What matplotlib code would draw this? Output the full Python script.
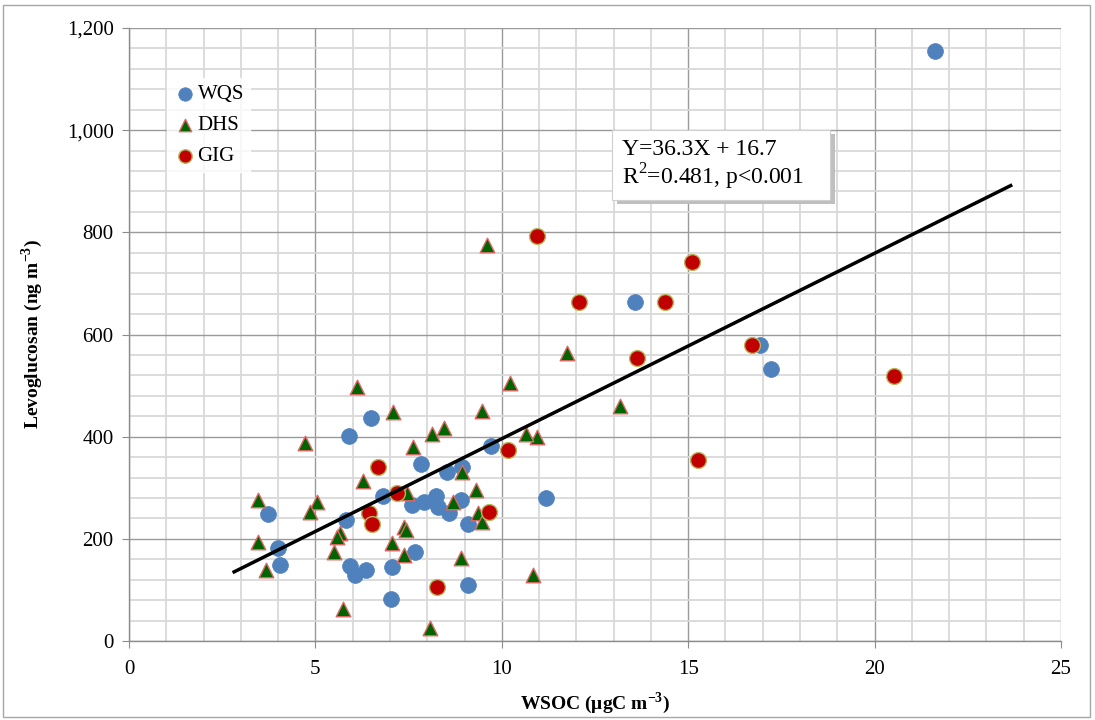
import matplotlib
matplotlib.use("Agg")
import matplotlib.pyplot as plt
import numpy as np
from matplotlib.patches import Rectangle
from matplotlib.ticker import MultipleLocator, FuncFormatter

plt.rcParams['font.family'] = ['Liberation Serif', 'DejaVu Serif']
plt.rcParams['mathtext.fontset'] = 'custom'
plt.rcParams['mathtext.rm'] = 'Liberation Serif'
plt.rcParams['mathtext.bf'] = 'Liberation Serif:bold'

# ---- data ----
wqs_x = [21.63, 13.58, 16.93, 17.23, 6.49, 5.91, 9.71, 7.82, 8.52, 8.92, 7.58, 7.91,
         8.24, 8.30, 8.59, 8.91, 9.10, 7.67, 11.18, 9.10, 3.74, 5.82, 6.82, 3.99,
         4.05, 5.93, 6.06, 6.36, 7.05, 7.02]
wqs_y = [1155, 664, 579, 532, 437, 402, 382, 346, 330, 340, 266, 273,
         283, 263, 250, 276, 230, 175, 279, 110, 248, 236, 284, 183,
         149, 146, 129, 139, 144, 82]

dhs_x = [11.76, 13.18, 9.61, 10.94, 10.85, 6.12, 7.07, 4.72, 7.63, 6.29, 10.22, 9.47,
         8.46, 8.14, 10.65, 8.92, 9.31, 8.70, 9.37, 9.46, 7.38, 7.42, 7.38, 8.90,
         8.07, 3.45, 5.05, 4.86, 7.45, 3.47, 5.66, 5.57, 5.51, 3.67, 7.05, 5.73]
dhs_y = [563, 460, 775, 399, 129, 497, 448, 388, 379, 313, 506, 451,
         417, 405, 405, 330, 296, 273, 250, 232, 224, 217, 168, 162,
         25, 276, 273, 253, 289, 194, 212, 204, 175, 139, 192, 62]

gig_x = [15.11, 12.07, 14.38, 16.70, 13.63, 15.27, 10.95, 20.53, 6.69, 10.17, 9.66,
         8.25, 6.44, 6.51, 7.18]
gig_y = [741, 664, 664, 579, 554, 354, 793, 519, 340, 373, 253,
         106, 250, 230, 289]

fit_slope = 36.3
fit_intercept = 33.0
fit_x = [2.82, 23.65]

eq_lines = ["Y=36.3X + 16.7", "R$^{2}$=0.481, p<0.001"]
x_ticks = [0, 5, 10, 15, 20, 25]
y_ticks = [0, 200, 400, 600, 800, 1000, 1200]

# ---- figure ----
fig = plt.figure(figsize=(10.95, 7.2), dpi=100)
ax = fig.add_axes([129/1095, 79/720, (1061-129)/1095, (641-28)/720])

# figure border
fig.patches.append(Rectangle((3/1095, 3/720), 1087/1095, 712/720, transform=fig.transFigure,
                             fill=False, edgecolor='#a6a6a6', linewidth=1.0))

ax.set_xlim(0, 25)
ax.set_ylim(0, 1200)
ax.xaxis.set_major_locator(MultipleLocator(5))
ax.xaxis.set_minor_locator(MultipleLocator(1))
ax.yaxis.set_major_locator(MultipleLocator(200))
ax.yaxis.set_minor_locator(MultipleLocator(40))
ax.set_xticks(x_ticks)
ax.set_yticks(y_ticks)
ax.yaxis.set_major_formatter(FuncFormatter(lambda v, p: f"{int(v):,}"))

ax.grid(which='minor', color='#d9d9d9', linewidth=1.3, zorder=0)
ax.grid(which='major', color='#9a9a9a', linewidth=1.0, zorder=0)
ax.set_axisbelow(True)

for s in ['top', 'right']:
    ax.spines[s].set_visible(False)
for s in ['left', 'bottom']:
    ax.spines[s].set_color('#8c8c8c')
    ax.spines[s].set_linewidth(1.0)
ax.tick_params(which='major', length=5, color='#8c8c8c', direction='out',
               labelsize=15, pad=6)
ax.tick_params(axis='x', which='major', pad=9)
ax.tick_params(which='minor', length=0)

ax.scatter(wqs_x, wqs_y, s=130, marker='o', color='#4f81bd', edgecolors='#4f81bd',
           linewidths=0.5, label='WQS', zorder=3)
ax.scatter(dhs_x, dhs_y, s=110, marker='^', color='#006400', edgecolors='#e06666',
           linewidths=1.0, label='DHS', zorder=3)
ax.scatter(gig_x, gig_y, s=130, marker='o', color='#c00000', edgecolors='#b5b55a',
           linewidths=1.0, label='GIG', zorder=3)

fx = np.array(fit_x)
ax.plot(fx, fit_slope * fx + fit_intercept, color='black', linewidth=2.5, zorder=4)

ax.set_xlabel('WSOC (μgC m$^{\\mathbf{-3}}$)', fontsize=14, fontweight='bold', labelpad=8)
ax.set_ylabel('Levoglucosan (ng m$^{\\mathbf{-3}}$)', fontsize=14, fontweight='bold', labelpad=16)

leg = ax.legend(loc='upper left', bbox_to_anchor=(0.03, 0.935), frameon=True,
                fontsize=15, handletextpad=0.05, labelspacing=0.55, borderpad=0.3,
                handlelength=1.1, fancybox=False, markerscale=0.85)
leg.get_frame().set_facecolor('white')
leg.get_frame().set_edgecolor('white')

# equation box with shadow
fig.patches.append(Rectangle((617/1095, 1-204/720), 218/1095, 70/720, transform=fig.transFigure,
                             facecolor='#bfbfbf', edgecolor='none', zorder=5))
fig.patches.append(Rectangle((612/1095, 1-200/720), 218/1095, 70/720, transform=fig.transFigure,
                             facecolor='white', edgecolor='#d0d0d0', linewidth=0.8, zorder=6))
fig.text(622/1095, 1-155/720, eq_lines[0], fontsize=17, ha='left', va='baseline', zorder=7)
fig.text(622/1095, 1-185/720, eq_lines[1], fontsize=17, ha='left', va='baseline', zorder=7)

fig.savefig('out.png', dpi=100)
